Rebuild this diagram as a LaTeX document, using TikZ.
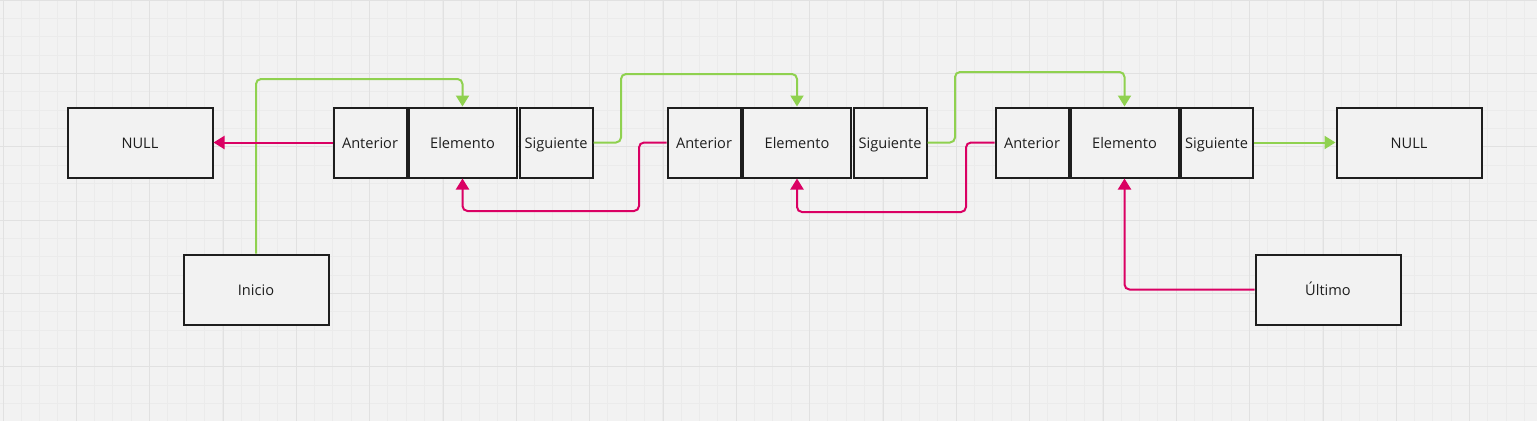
\documentclass[tikz,border=0pt]{standalone}
\usepackage{fontspec}
\setmainfont{Open Sans}
\usetikzlibrary{arrows.meta}
\definecolor{fondo}{HTML}{F2F2F2}
\definecolor{rejilla}{HTML}{EBEBEB}
\definecolor{rejillaB}{HTML}{E1E1E1}
\definecolor{verde}{HTML}{8FD14F}
\definecolor{rosa}{HTML}{DA0063}
\definecolor{borde}{HTML}{1E1E1E}

\begin{document}
\begin{tikzpicture}[x=1pt, y=-1pt, line width=2pt, rounded corners=5pt,
  >={Triangle[length=11pt, width=13pt]}]

   % fondo y rejilla
   \fill[fondo, rounded corners=0pt] (0,0) rectangle (1537,421);
   \useasboundingbox (0,0) rectangle (1537,421);
   \foreach \i in {0,...,83} \draw[rejilla, line width=1pt, rounded corners=0pt] (3+\i*18.333,0) -- (3+\i*18.333,421);
   \foreach \i in {0,...,22} \draw[rejilla, line width=1pt, rounded corners=0pt] (0,\i*18.333) -- (1537,\i*18.333);
   \foreach \i in {0,...,20} \draw[rejillaB, line width=1pt, rounded corners=0pt] (3+\i*73.333,0) -- (3+\i*73.333,421);
   \foreach \i in {0,...,5} \draw[rejillaB, line width=1pt, rounded corners=0pt] (0,\i*73.333) -- (1537,\i*73.333);

   \begin{scope}[every node/.style={rectangle,draw=borde,fill=fondo,rounded corners=0pt,
       minimum height=70pt,inner sep=0pt,text=borde,text height=12.5pt,text depth=1.5pt,
       font=\fontsize{14.6}{17}\selectfont}]
    \node[minimum width=145pt] (null1) at (140,142.5) {NULL};
    \node[minimum width=73pt] (ant1) at (370,142.5) {Anterior};
    \node[minimum width=108pt] (elem1) at (462.5,142.5) {Elemento};
    \node[minimum width=73pt] (sig1) at (556,142.5) {Siguiente};
    \node[minimum width=73pt] (ant2) at (704,142.5) {Anterior};
    \node[minimum width=108pt] (elem2) at (797,142.5) {Elemento};
    \node[minimum width=73pt] (sig2) at (890,142.5) {Siguiente};
    \node[minimum width=73pt] (ant3) at (1032,142.5) {Anterior};
    \node[minimum width=108pt] (elem3) at (1124.5,142.5) {Elemento};
    \node[minimum width=72pt] (sig3) at (1216.5,142.5) {Siguiente};
    \node[minimum width=145pt] (null2) at (1409,142.5) {NULL};
    \node[minimum width=145pt] (inicio) at (256,289.5) {Inicio};
    \node[minimum width=145pt] (ultimo) at (1328,289.5) {Último};
   \end{scope}

   \coordinate (arriba1) at (0,79);
   \coordinate (arriba2) at (621,74);
   \coordinate (arriba3) at (955,72);
   \coordinate (abajo1) at (639,211);
   \coordinate (abajo2) at (966,212);

\draw[verde,->] (inicio.north) -- (inicio.north |- arriba1) -| (elem1.north);
\draw[verde,->] (sig1.east) -| (arriba2) -| (elem2.north);
\draw[verde,->] (sig2.east) -| (arriba3) -| (elem3.north);
\draw[verde,->] (sig3.east) -- (null2.west);
\draw[rosa,->] (ant1.west) -- (null1.east);
\draw[rosa,->] (ant2.west) -| (abajo1) -| (elem1.south);
\draw[rosa,->] (ant3.west) -| (abajo2) -| (elem2.south);
\draw[rosa,->] (ultimo.west) -| (elem3.south);
\end{tikzpicture}
\end{document}
